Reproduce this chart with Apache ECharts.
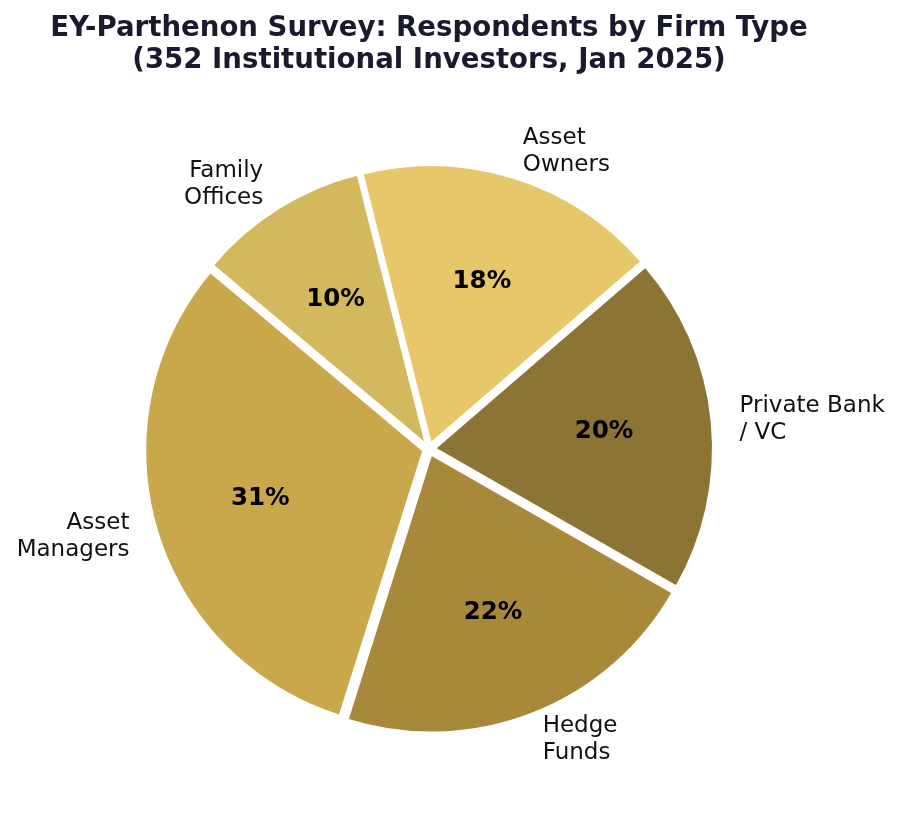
<!DOCTYPE html>
<html>
<head>
<meta charset="utf-8">
<script src="https://cdn.jsdelivr.net/npm/echarts@6/dist/echarts.min.js"></script>
<style>
  html, body { margin: 0; padding: 0; background: #ffffff; }
  #chart { width: 899px; height: 813px; }
</style>
</head>
<body>
<div id="chart"></div>
<script>
// ---- data ----
const categories = ['Asset Managers', 'Hedge Funds', 'Private Bank / VC', 'Asset Owners', 'Family Offices'];
const labelNames = ['Asset\nManagers', 'Hedge\nFunds', 'Private Bank\n/ VC', 'Asset\nOwners', 'Family\nOffices'];
const respondents = [110, 76, 69, 62, 35];
const colors = ['#C9A84C', '#A8893A', '#8B7434', '#E6C86A', '#D4B85E'];

const titleText = 'EY-Parthenon Survey: Respondents by Firm Type\n(352 Institutional Investors, Jan 2025)';

const FONT = 'DejaVu Sans';
const CX = 429, CY = 449, R = 278, OFFSET = 6;
const total = respondents.reduce((a, b) => a + b, 0);

const mainData = categories.map((c, i) => ({
  name: c,
  value: respondents[i],
  selected: true,
  itemStyle: { color: colors[i] },
  label: { formatter: labelNames[i] }
}));
const pctData = categories.map((c, i) => ({
  name: c,
  value: respondents[i],
  selected: true
}));

const chart = echarts.init(document.getElementById('chart'), null, { renderer: 'canvas' });
chart.setOption({
  backgroundColor: '#ffffff',
  animation: false,
  title: {
    text: titleText,
    left: 424,
    textAlign: 'center',
    top: 8,
    textStyle: {
      fontFamily: FONT,
      fontWeight: 'bold',
      fontSize: 27.6,
      lineHeight: 32,
      color: '#1a1a2e'
    }
  },
  series: [
    {
      type: 'pie',
      center: [CX, CY],
      radius: [0, R],
      startAngle: 140,
      clockwise: false,
      avoidLabelOverlap: false,
      selectedMode: 'multiple',
      selectedOffset: OFFSET,
      silent: true,
      itemStyle: { borderColor: '#ffffff', borderWidth: 2 },
      select: { itemStyle: { borderColor: '#ffffff', borderWidth: 2 } },
      emphasis: { disabled: true, scale: false },
      label: {
        show: true,
        position: 'outside',
        fontFamily: FONT,
        fontSize: 23,
        lineHeight: 27,
        color: '#111111',
        distanceToLabelLine: 0
      },
      labelLine: { show: false, length: 28, length2: 0 },
      data: mainData
    },
    {
      type: 'pie',
      center: [CX, CY],
      radius: [R * 0.2, R],
      startAngle: 140,
      clockwise: false,
      avoidLabelOverlap: false,
      selectedMode: 'multiple',
      selectedOffset: OFFSET,
      silent: true,
      z: 5,
      itemStyle: { color: 'rgba(0,0,0,0)', borderWidth: 0 },
      select: { itemStyle: { color: 'rgba(0,0,0,0)', borderWidth: 0 } },
      emphasis: { disabled: true, scale: false },
      label: {
        show: true,
        position: 'inside',
        formatter: p => Math.round(p.value / total * 100) + '%',
        fontFamily: FONT,
        fontWeight: 'bold',
        fontSize: 24.5,
        color: '#000000'
      },
      labelLine: { show: false },
      data: pctData
    }
  ]
});
</script>
</body>
</html>
